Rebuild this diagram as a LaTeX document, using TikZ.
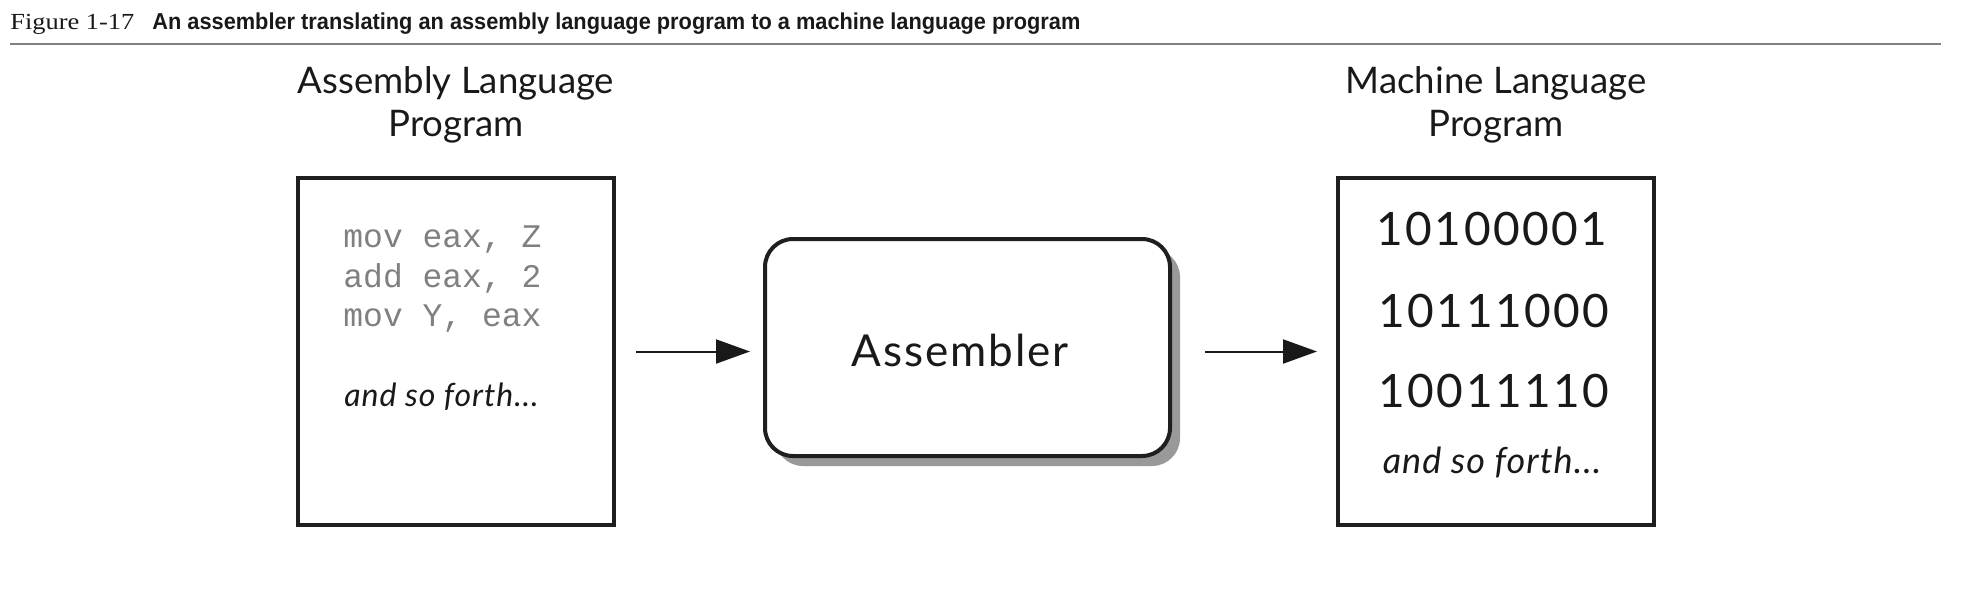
\documentclass[tikz,border=0pt]{standalone}
\usepackage{fontspec}
\setmainfont{Lato}
\setmonofont{Liberation Mono}
\newfontfamily\capserif{Liberation Serif}
\newfontfamily\capsans{Liberation Sans}
\usetikzlibrary{arrows.meta,shadows}
\begin{document}
\begin{tikzpicture}[x=0.5pt,y=-0.5pt,
  frame/.style={draw=black!88, line width=2pt, fill=white, inner sep=0pt},
  arr/.style={-{Triangle[length=17pt,width=12pt]}, line width=1pt, draw=black!90},
  txt/.style={inner sep=0pt, text=black!90},
  title/.style={txt, anchor=base, font=\fontsize{18.3}{22}\selectfont},
  code/.style={inner sep=0pt, anchor=base west, text=black!50, font=\ttfamily\fontsize{16.5}{20}\selectfont},
  bin/.style={txt, anchor=base, font=\fontsize{23}{28}\selectfont\addfontfeature{LetterSpace=5.5}},
  etc/.style={txt, anchor=base}
]
\useasboundingbox (0,0) rectangle (1986,612);
% caption
\node[txt, anchor=base west] (fig) at (10,29) {\capserif\fontsize{11.5}{13}\selectfont\resizebox{62pt}{\height}{Figure 1-17}};
\node[txt, anchor=base west] (captxt) at (152,29) {\capsans\bfseries\fontsize{11.5}{13}\selectfont\resizebox{464pt}{\height}{An assembler translating an assembly language program to a machine language program}};
\coordinate (r1) at (10,44);
\coordinate (r2) at (1941,44);
\draw[black!50, line width=1pt] (r1) -- (r2);
% titles
\node[title] (t1a) at (456,93) {Assembly Language};
\node[title] (t1b) at (456,136) {Program};
\node[title] (t2a) at (1496,93) {Machine Language};
\node[title] (t2b) at (1496,136) {Program};
% boxes
\node[frame, minimum width=158pt, minimum height=173.5pt] (left) at (456,351.5) {};
\node[frame, minimum width=158pt, minimum height=173.5pt] (right) at (1496,351.5) {};
\node[frame, rounded corners=14pt, minimum width=202.5pt, minimum height=108.5pt,
      drop shadow={shadow xshift=5pt, shadow yshift=-5pt, fill=black!40, opacity=1}] (asm) at (967.5,347.5) {};
\node[txt, font=\fontsize{22}{26}\selectfont\addfontfeature{LetterSpace=4.5}] (asmlbl) at (960,350) {Assembler};
% code
\node[code] (c1) at (343,247) {mov eax, Z};
\node[code] (c2) at (343,287) {add eax, 2};
\node[code] (c3) at (343,326) {mov Y, eax};
\node[etc, anchor=base west, font=\itshape\fontsize{16}{19}\selectfont\addfontfeature{LetterSpace=3}] (e1) at (344,406) {and so forth...};
% binary
\node[bin] (b1) at (1492,245) {10100001};
\node[bin] (b2) at (1494,327) {10111000};
\node[bin] (b3) at (1494,407) {10011110};
\node[etc, font=\itshape\fontsize{18}{22}\selectfont\addfontfeature{LetterSpace=3}] (e2) at (1492,473) {and so forth...};
% arrows
\draw[arr, shorten <=10pt, shorten >=6.5pt] (left.east) -- (left.east -| asm.west);
\draw[arr, shorten <=16.5pt, shorten >=9.5pt] (asm.east |- right.west) -- (right.west);
\end{tikzpicture}
\end{document}
